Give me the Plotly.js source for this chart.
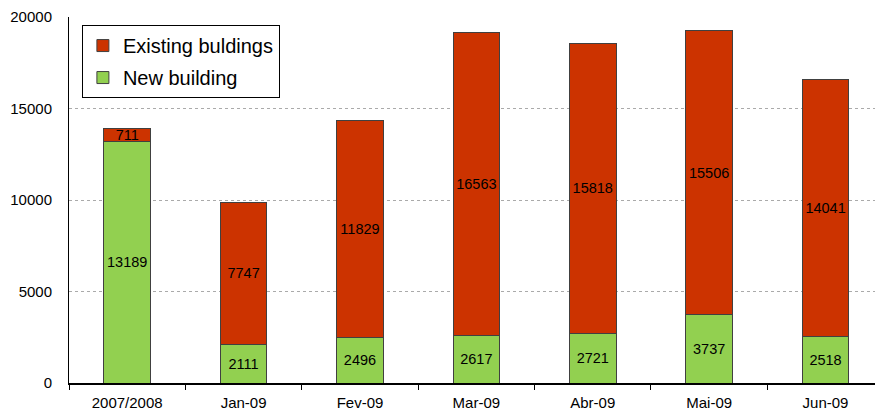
<!DOCTYPE html>
<html>
<head>
<meta charset="utf-8">
<script src="https://cdn.plot.ly/plotly-3.0.1.min.js"></script>
<style>html,body{margin:0;padding:0;background:#fff;}#chart{width:875px;height:416px;}</style>
</head>
<body>
<div id="chart"></div>
<script>
const categories = ["2007/2008", "Jan-09", "Fev-09", "Mar-09", "Abr-09", "Mai-09", "Jun-09"];
const newBuilding = [13189, 2111, 2496, 2617, 2721, 3737, 2518];
const existingBuildings = [711, 7747, 11829, 16563, 15818, 15506, 14041];
const yTicks = [0, 5000, 10000, 15000, 20000];

const common = {
  type: "bar",
  x: categories,
  width: 0.4,
  textposition: "inside",
  insidetextanchor: "middle",
  constraintext: "none",
  textangle: 0,
  textfont: {family: "Liberation Sans, Arial, sans-serif", size: 14.5, color: "#000"},
  hoverinfo: "skip"
};

const traces = [
  Object.assign({}, common, {
    name: "New building",
    legendgroup: "new",
    legendrank: 2,
    y: newBuilding,
    text: newBuilding.map(String),
    marker: {color: "#92D050", line: {color: "#404040", width: 1}}
  }),
  Object.assign({}, common, {
    name: "Existing buldings",
    legendgroup: "existing",
    legendrank: 1,
    y: existingBuildings,
    text: existingBuildings.map(String),
    marker: {color: "#CC3300", line: {color: "#404040", width: 1}}
  })
];

const layout = {
  width: 875, height: 416,
  margin: {l: 69, r: 0, t: 17, b: 33},
  barmode: "stack",
  paper_bgcolor: "#fff",
  plot_bgcolor: "#fff",
  font: {family: "Liberation Sans, Arial, sans-serif", size: 15, color: "#000"},
  showlegend: true,
  legend: {
    x: 0.016, y: 0.978, xanchor: "left", yanchor: "top",
    traceorder: "grouped",
    tracegroupgap: 3,
    bgcolor: "#fff", bordercolor: "#000", borderwidth: 1,
    font: {size: 20},
    itemwidth: 30
  },
  xaxis: {
    type: "category",
    range: [-0.5, 6.425],
    showgrid: false,
    showline: true, linecolor: "#000", linewidth: 2,
    ticks: "outside", tickson: "boundaries", ticklen: 5, tickcolor: "#000", tickwidth: 1,
    ticklabelstandoff: 5,
    tickfont: {size: 15},
    zeroline: false
  },
  yaxis: {
    range: [0, 20000],
    tickvals: yTicks,
    ticktext: yTicks.map(String),
    showgrid: true, gridcolor: "#aaa", griddash: "dot", gridwidth: 1,
    showline: true, linecolor: "#000", linewidth: 1,
    ticks: "", ticklabelstandoff: 13,
    tickfont: {size: 15},
    zeroline: false
  }
};

Plotly.newPlot("chart", traces, layout, {displayModeBar: false, staticPlot: true});
</script>
</body>
</html>
